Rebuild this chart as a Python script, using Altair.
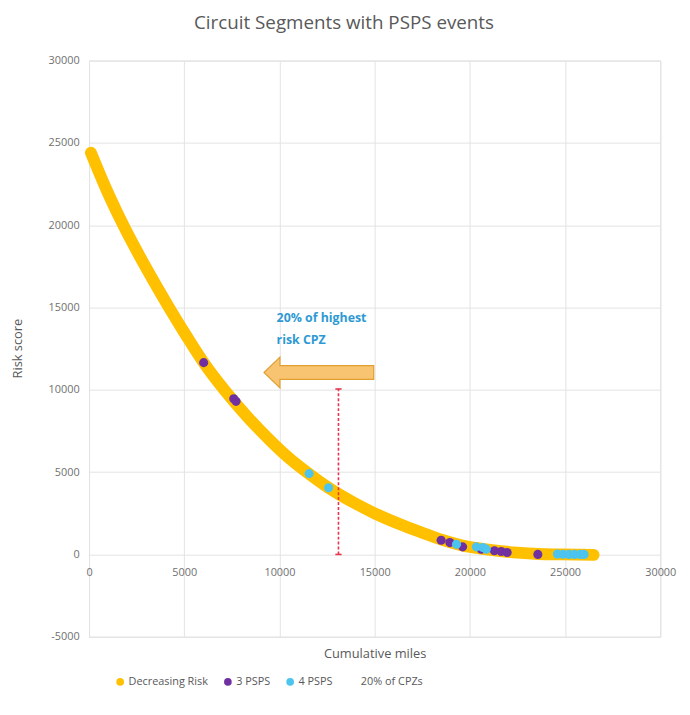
import altair as alt
import pandas as pd

# ---- data ----
curve_x = [100, 900, 1800, 3000, 4200, 5100, 6020, 7100, 8300, 9500, 10500, 11550, 12580,
           14000, 15000, 16300, 17500, 18550, 19600, 20500, 21500, 22500, 23600, 24800, 26500]
curve_y = [24400, 22200, 20000, 17400, 15000, 13300, 11650, 10000, 8380, 6940, 5860, 4900, 4050,
           3085, 2500, 1850, 1320, 880, 545, 365, 215, 105, 28, 0, -30]

psps3_x = [6020, 7600, 7720, 18490, 18950, 19620, 20600, 21290, 21650, 21960, 23570]
psps3_y = [11650, 9460, 9300, 860, 720, 460, 320, 220, 180, 120, 0]

psps4_x = [11560, 12580, 19300, 20340, 20680, 20860, 24600, 24900, 25200, 25500, 25800, 26000]
psps4_y = [4910, 4050, 620, 460, 420, 320, 20, 10, 0, 0, 0, 0]

cpz_x = [13100, 13100]
cpz_y = [0, 10050]

series_names = ["Decreasing Risk", "3 PSPS", "4 PSPS", "20% of CPZs"]
series_colors = ["#FFC000", "#7030A0", "#4CC4EE", "rgba(255,255,255,0)"]

x_ticks = [0, 5000, 10000, 15000, 20000, 25000, 30000]
y_ticks = [-5000, 0, 5000, 10000, 15000, 20000, 25000, 30000]

arrow_x, arrow_y = [12070], [11050]
note_x, note_y = [9850], [14350]
note_text = [["20% of highest", "risk CPZ"]]

# ---- frames ----
curve_df = pd.DataFrame({"x": curve_x, "y": curve_y, "series": series_names[0]})
pts_df = pd.concat([
    pd.DataFrame({"x": psps3_x, "y": psps3_y, "series": series_names[1]}),
    pd.DataFrame({"x": psps4_x, "y": psps4_y, "series": series_names[2]}),
], ignore_index=True)
cpz_df = pd.DataFrame({"x": cpz_x, "y": cpz_y})
arrow_df = pd.DataFrame({"x": arrow_x, "y": arrow_y})
note_df = pd.DataFrame({"x": note_x, "y": note_y, "t": note_text})

GRID = "#e3e3e3"
LABEL = "#6f6f6f"
FONT = "Open Sans"

xscale = alt.Scale(domain=[0, 30000], nice=False, zero=False)
yscale = alt.Scale(domain=[-5000, 30000], nice=False, zero=False)

x_enc = alt.X("x:Q", scale=xscale, axis=alt.Axis(
    values=x_ticks, grid=True, gridColor=GRID, domain=False, ticks=False,
    offset=-83.3, labelPadding=12, labelFontSize=11, labelColor=LABEL, labelFont=FONT,
    title="Cumulative miles", titleFontSize=13, titleColor="#595959", titleFont=FONT,
    titleFontWeight="normal", titleY=100, titleBaseline="middle", titleX=289,
    labelExpr="datum.value + ''", labelFlush=False))
y_enc = alt.Y("y:Q", scale=yscale, axis=alt.Axis(
    values=y_ticks, grid=True, gridColor=GRID, domain=False, ticks=False,
    labelPadding=10, labelFontSize=11, labelColor=LABEL, labelFont=FONT,
    title="Risk score", titleFontSize=13, titleColor="#595959", titleFont=FONT,
    titleFontWeight="normal", titleX=-72, titleY=291, titleBaseline="middle",
    labelExpr="datum.value + ''", labelFlush=False))

line = alt.Chart(curve_df).mark_line(
    color="#FFC000", strokeWidth=12, strokeCap="round", strokeJoin="round",
    interpolate="monotone").encode(x=x_enc, y=y_enc)

points = alt.Chart(pts_df).mark_circle(size=85, opacity=1).encode(
    x="x:Q", y="y:Q",
    color=alt.Color("series:N", scale=alt.Scale(domain=series_names, range=series_colors),
                    legend=alt.Legend(title=None, orient="none", direction="horizontal",
                                      legendX=26, legendY=623, symbolType="circle",
                                      symbolSize=60, labelFontSize=11, labelColor="#595959",
                                      labelFont=FONT, columnPadding=14, symbolOffset=0,
                                      labelOffset=3)))

rule = alt.Chart(cpz_df).mark_line(color="#E8354D", strokeWidth=1.6,
                                   strokeDash=[3, 2]).encode(x="x:Q", y="y:Q")
caps = alt.Chart(cpz_df).mark_point(shape="M -1 0 L 1 0", size=40, color="#E8354D",
                                     strokeWidth=1.6, filled=False, opacity=1).encode(x="x:Q", y="y:Q")

arrow_path = "M -1 0 L -0.71 -0.28 L -0.71 -0.126 L 1 -0.126 L 1 0.126 L -0.71 0.126 L -0.71 0.28 Z"
arrow = alt.Chart(arrow_df).mark_point(shape=arrow_path, size=12321, filled=True,
                                       fill="#F8C471", stroke="#E0A030", strokeWidth=1.2,
                                       opacity=1, fillOpacity=1).encode(x="x:Q", y="y:Q")

note = alt.Chart(note_df).mark_text(align="left", baseline="middle", font=FONT,
                                    fontSize=12.5, fontWeight="bold", color="#2E9AD3",
                                    lineHeight=22).encode(x="x:Q", y="y:Q", text="t")

chart = alt.layer(line, points, rule, caps, arrow, note).properties(
    width=578, height=583,
    autosize=alt.AutoSizeParams(type="none"),
    padding={"left": 82, "top": 49, "right": 22, "bottom": 75},
    title=alt.TitleParams("Circuit Segments with PSPS events", fontSize=19, font=FONT,
                          fontWeight="normal", color="#595959", dx=-31, offset=22),
).configure_view(strokeWidth=0).configure(background="white")

chart.save("out.html", embed_options={"renderer": "svg", "actions": False})
